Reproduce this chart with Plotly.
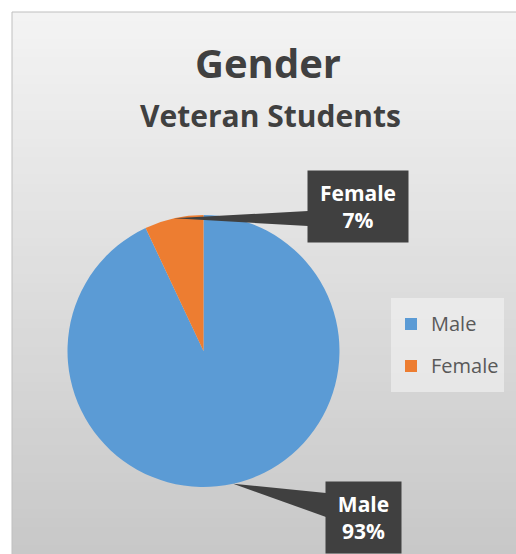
import math
import plotly.graph_objects as go

# ---- data ----
labels = ["Male", "Female"]
values = [93, 7]
colors = ["#5B9BD5", "#ED7D31"]
title_main = "Gender"
title_sub = "Veteran Students"

W, H = 516, 554
FONT = "Open Sans"

# pie geometry (pixels)
cx, cy, R = 203.5, 351.0, 136.0
dom_x = [(cx - R) / W, (cx + R) / W]
dom_y = [1 - (cy + R) / H, 1 - (cy - R) / H]

legend_labels = ['<span style="font-size:20px;baseline-shift:5px">%s</span>' % l for l in labels]

fig = go.Figure()
fig.add_trace(go.Pie(
    labels=legend_labels, values=values, sort=False, direction="clockwise", rotation=0,
    marker=dict(colors=colors, line=dict(width=0)),
    textinfo="none", hoverinfo="label+percent",
    domain=dict(x=dom_x, y=dom_y), showlegend=True,
))

shapes = []
# background gradient of chart area
x0, y0 = 12, 12
n = 60
top = (243, 243, 243)
bot = (200, 200, 200)
for i in range(n):
    t = i / (n - 1)
    c = tuple(int(round(top[k] + (bot[k] - top[k]) * t)) for k in range(3))
    ya = y0 + (H - y0) * i / n
    yb = y0 + (H - y0) * (i + 1) / n + 1
    shapes.append(dict(type="rect", xref="paper", yref="paper", layer="below",
                       x0=x0 / W, x1=1.02, y0=1 - yb / H, y1=1 - ya / H,
                       fillcolor="rgb(%d,%d,%d)" % c, line=dict(width=0)))
shapes.append(dict(type="rect", xref="paper", yref="paper", layer="below",
                   x0=x0 / W, x1=1.05, y0=-0.05, y1=1 - y0 / H,
                   fillcolor="rgba(0,0,0,0)", line=dict(color="#BFBFBF", width=1)))

# callouts
boxes = {
    "Male": dict(cx=363.5, cy=517.5, w=75, h=71, left=326, b0=493, b1=517),
    "Female": dict(cx=358.0, cy=206.5, w=100, h=71, left=308, b0=211, b1=226),
}
total = sum(values)
cum = 0
annotations = []
for lab, v in zip(labels, values):
    mid = (cum + v / 2) / total * 2 * math.pi
    cum += v
    tx = cx + R * math.sin(mid)
    ty = cy - R * math.cos(mid)
    b = boxes[lab]
    path = "M %f,%f L %f,%f L %f,%f Z" % (
        tx / W, 1 - ty / H, b["left"] / W, 1 - b["b0"] / H, b["left"] / W, 1 - b["b1"] / H)
    shapes.append(dict(type="path", xref="paper", yref="paper", path=path,
                       fillcolor="#404040", line=dict(width=0), layer="above"))
    annotations.append(dict(
        x=b["cx"] / W, y=1 - b["cy"] / H, xref="paper", yref="paper",
        xanchor="center", yanchor="middle", showarrow=False,
        text="<b>%s<br>%d%%</b>" % (lab, round(v / total * 100)),
        font=dict(family=FONT, size=21, color="white"),
        bgcolor="#404040", width=b["w"], height=b["h"], borderpad=0,
        align="center", valign="middle"))

annotations.append(dict(x=268 / W, y=1 - 62 / H, xref="paper", yref="paper",
                        showarrow=False, xanchor="center", yanchor="middle",
                        text="<b>%s</b>" % title_main,
                        font=dict(family=FONT, size=40, color="#404040")))
annotations.append(dict(x=270 / W, y=1 - 115 / H, xref="paper", yref="paper",
                        showarrow=False, xanchor="center", yanchor="middle",
                        text="<b>%s</b>" % title_sub,
                        font=dict(family=FONT, size=30, color="#404040")))

fig.update_layout(
    width=W, height=H, margin=dict(l=0, r=0, t=0, b=0),
    paper_bgcolor="white", plot_bgcolor="rgba(0,0,0,0)",
    shapes=shapes, annotations=annotations,
    legend=dict(x=391 / W, y=1 - 345 / H, xanchor="left", yanchor="middle",
                bgcolor="rgba(245,245,245,0.55)",
                font=dict(family=FONT, size=30, color="#595959")),
)
fig.write_html("out.html", config={"displayModeBar": False},
               post_script="document.body.style.margin='0';")
